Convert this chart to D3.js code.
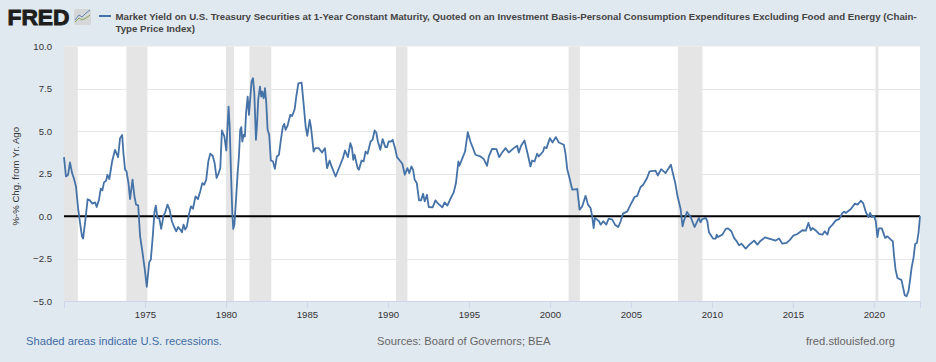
<!DOCTYPE html>
<html>
<head>
<meta charset="utf-8">
<script src="https://cdn.jsdelivr.net/npm/d3@7"></script>
<style>
html, body { margin: 0; padding: 0; background: #e1e9f0; }
svg { display: block; font-family: "Liberation Sans", Arial, sans-serif; }
</style>
</head>
<body>
<svg width="936" height="362"></svg>
<script>
const years = [
1970.0,1970.12,1970.25,1970.37,1970.5,1970.62,1970.74,1970.87,1970.99,1971.11,1971.18,1971.3,1971.46,1971.6,1971.75,1971.92,1972.02,1972.16,1972.27,1972.37,1972.47,1972.6,1972.68,1972.8,1972.97,1973.15,1973.34,1973.46,1973.59,1973.67,1973.77,1973.86,1973.98,1974.08,1974.23,1974.35,1974.45,1974.58,1974.7,1974.85,1974.99,1975.11,1975.26,1975.36,1975.48,1975.59,1975.67,1975.77,1975.88,1976.0,1976.14,1976.25,1976.39,1976.52,1976.66,1976.8,1976.93,1977.05,1977.18,1977.28,1977.38,1977.48,1977.59,1977.71,1977.84,1977.96,1978.12,1978.27,1978.41,1978.54,1978.66,1978.78,1978.91,1979.03,1979.18,1979.3,1979.42,1979.55,1979.65,1979.75,1979.9,
1980.02,1980.16,1980.23,1980.31,1980.39,1980.45,1980.52,1980.62,1980.72,1980.8,1980.88,1980.95,1981.01,1981.09,1981.17,1981.24,1981.34,1981.42,1981.5,1981.58,1981.67,1981.75,1981.85,1981.91,1981.99,1982.1,1982.18,1982.24,1982.33,1982.41,1982.49,1982.57,1982.67,1982.77,1982.9,1983.02,1983.14,1983.27,1983.39,1983.51,1983.6,1983.68,1983.8,1983.97,1984.09,1984.24,1984.34,1984.47,1984.67,1984.79,1984.92,1985.02,1985.17,1985.25,1985.41,1985.51,1985.72,1985.93,1986.11,1986.24,1986.4,1986.52,1986.77,1987.06,1987.22,1987.35,1987.53,1987.68,1987.78,1987.86,1987.94,1988.13,1988.21,1988.37,1988.5,1988.62,1988.74,1988.93,1989.05,1989.18,1989.28,1989.38,1989.53,1989.67,1989.84,1989.94,
1990.05,1990.19,1990.29,1990.44,1990.56,1990.73,1990.89,1991.04,1991.2,1991.32,1991.45,1991.55,1991.65,1991.78,1991.92,1992.04,1992.17,1992.27,1992.41,1992.52,1992.76,1992.93,1993.07,1993.36,1993.5,1993.67,1993.85,1994.06,1994.2,1994.35,1994.41,1994.6,1994.76,1994.93,1995.09,1995.25,1995.4,1995.71,1995.92,1996.12,1996.23,1996.43,1996.7,1996.87,1997.05,1997.26,1997.46,1997.77,1997.98,1998.08,1998.22,1998.43,1998.64,1998.8,1998.9,1999.05,1999.21,1999.31,1999.58,1999.66,1999.79,
2000.0,2000.16,2000.37,2000.55,2000.86,2000.96,2001.07,2001.21,2001.38,2001.69,2001.83,2002.0,2002.2,2002.35,2002.51,2002.61,2002.7,2002.78,2003.03,2003.13,2003.3,2003.48,2003.63,2003.85,2004.02,2004.22,2004.37,2004.51,2004.78,2004.98,2005.23,2005.39,2005.6,2005.76,2006.0,2006.15,2006.52,2006.66,2006.87,2007.14,2007.47,2007.59,2007.74,2007.88,2008.07,2008.19,2008.27,2008.46,2008.69,2008.93,2009.2,2009.3,2009.41,2009.62,2009.72,2009.82,
2010.07,2010.24,2010.3,2010.38,2010.65,2010.86,2011.0,2011.2,2011.37,2011.53,2011.68,2011.82,2012.09,2012.36,2012.61,2012.81,2012.98,2013.28,2013.53,2013.94,2014.15,2014.35,2014.62,2014.83,2015.03,2015.28,2015.59,2015.8,2015.96,2016.11,2016.21,2016.42,2016.62,2016.83,2016.97,2017.14,2017.24,2017.45,2017.65,2017.86,2018.06,2018.17,2018.27,2018.58,2018.83,2018.99,2019.2,2019.34,2019.51,2019.67,2019.77,2019.88,
2020.02,2020.12,2020.22,2020.31,2020.49,2020.7,2020.84,2021.05,2021.17,2021.25,2021.34,2021.46,2021.71,2021.81,2021.91,2022.02,2022.14,2022.24,2022.33,2022.45,2022.55,2022.66,2022.76,2022.85
];
const values = [
3.48,2.34,2.44,3.17,2.54,2.19,1.75,0.48,-0.4,-1.19,-1.32,-0.4,1.0,0.93,0.74,0.81,0.54,0.97,1.62,1.52,1.99,2.09,2.44,2.19,3.22,3.91,3.48,4.6,4.79,3.72,2.74,2.64,1.95,1.0,2.15,1.17,0.68,0.64,-1.19,-2.17,-3.15,-4.17,-2.72,-2.56,-1.19,0.28,0.62,-0.11,-0.11,-0.75,0,0.23,0.68,0.38,-0.3,-0.64,-0.89,-0.64,-0.79,-0.95,-0.5,-0.79,-0.6,0.09,0.58,0.44,1.17,1.01,1.46,1.95,1.85,2.15,3.23,3.68,3.56,3.13,2.25,2.54,2.83,5.05,4.7,
3.87,6.46,5.28,2.54,0.19,-0.75,-0.5,0.97,2.54,3.52,5.09,5.25,4.4,4.79,4.7,6.07,7.05,5.97,6.95,7.93,8.13,7.25,4.5,5.28,6.85,7.64,7.05,7.34,6.95,7.54,6.66,5.09,4.79,3.28,3.23,2.79,3.52,3.62,4.5,5.28,5.44,5.09,5.32,5.97,5.91,6.3,7.05,7.83,7.87,6.66,5.28,4.74,5.68,5.25,3.81,4.01,4.01,3.75,4.01,2.83,3.28,2.93,2.34,3.03,3.42,3.87,3.48,4.3,4.01,3.32,3.62,2.83,2.74,3.28,3.23,3.81,3.68,4.4,4.5,5.05,4.93,4.4,3.91,4.54,4.07,4.07,
4.4,4.4,4.5,4.01,3.48,3.28,3.09,2.44,2.83,2.54,2.93,2.74,2.15,1.95,0.93,0.93,1.32,0.87,1.26,0.54,0.52,0.93,0.77,0.52,0.81,0.62,1.01,1.4,1.95,3.23,2.97,3.42,3.81,4.95,4.4,4.01,3.62,3.52,3.36,2.97,3.52,3.97,3.95,3.48,3.75,4.01,3.75,4.01,4.15,3.75,4.15,4.46,3.62,2.93,3.28,3.22,3.68,3.52,3.81,4.07,4.01,
4.6,4.34,4.66,4.34,4.21,3.72,2.77,2.25,1.56,1.6,0.38,0.58,1.2,0.68,0.48,0,-0.7,-0.1,-0.3,-0.5,-0.3,-0.5,-0.15,-0.2,-0.5,-0.64,-0.3,0.15,0.28,0.68,1.13,1.2,1.72,1.85,2.25,2.64,2.68,2.4,2.77,2.54,3.03,2.54,1.95,1.17,0.42,-0.6,-0.3,0.25,-0.05,-0.64,-0.1,-0.36,-0.17,-0.1,-0.3,-0.95,
-1.32,-1.32,-1.09,-1.23,-1.09,-0.75,-0.72,-0.89,-1.28,-1.48,-1.72,-1.62,-1.91,-1.64,-1.44,-1.68,-1.48,-1.25,-1.32,-1.44,-1.32,-1.62,-1.58,-1.38,-1.15,-1.05,-0.83,-0.85,-0.4,-0.83,-0.7,-0.85,-1.05,-1.09,-0.89,-1.09,-0.7,-0.5,-0.25,-0.17,0.19,0.26,0.19,0.42,0.74,0.68,0.91,0.77,0.23,-0.05,0.19,-0.05,
0,-0.3,-1.23,-0.72,-0.72,-1.28,-1.19,-1.38,-1.48,-2.36,-3.15,-3.64,-3.77,-4.23,-4.66,-4.72,-4.42,-3.74,-3.05,-2.46,-1.64,-1.58,-0.99,0.0
];
const recessionStarts = [1969.9, 1973.85, 1980.0, 1981.45, 1990.5, 2001.15, 2007.9, 2020.1];
const recessionEnds = [1970.85, 1975.15, 1980.5, 1982.8, 1991.2, 2001.85, 2009.42, 2020.28];
const xTicks = [1975, 1980, 1985, 1990, 1995, 2000, 2005, 2010, 2015, 2020];
const yTicks = [-5, -2.5, 0, 2.5, 5, 7.5, 10];
const titleLines = [
    "Market Yield on U.S. Treasury Securities at 1-Year Constant Maturity, Quoted on an Investment Basis-Personal Consumption Expenditures Excluding Food and Energy (Chain-",
    "Type Price Index)"
];

const svg = d3.select("svg");
const margin = { left: 64, right: 16, top: 46.5, bottom: 61 };
const width = +svg.attr("width");
const height = +svg.attr("height");
const blue = "#4572a7";

const x = d3.scaleLinear().domain([1970, 2022.85]).range([margin.left, width - margin.right]);
const y = d3.scaleLinear().domain([-5, 10]).range([height - margin.bottom, margin.top]);

svg.append("rect").attr("width", width).attr("height", height).attr("fill", "#e1e9f0");
svg.append("rect")
    .attr("x", x.range()[0]).attr("y", y(10))
    .attr("width", x.range()[1] - x.range()[0]).attr("height", y(-5) - y(10))
    .attr("fill", "#fff");

// gridlines
svg.append("g").selectAll("line")
    .data(yTicks.filter(d => d !== 10 && d !== -5))
    .enter().append("line")
    .attr("x1", x.range()[0]).attr("x2", x.range()[1])
    .attr("y1", d => Math.round(y(d)) + 0.5).attr("y2", d => Math.round(y(d)) + 0.5)
    .attr("stroke", "#e6e6e6");

// recessions
svg.append("g").selectAll("rect")
    .data(recessionStarts)
    .enter().append("rect")
    .attr("x", d => x(Math.max(d, 1970)))
    .attr("y", y(10))
    .attr("width", (d, i) => x(recessionEnds[i]) - x(Math.max(d, 1970)))
    .attr("height", y(-5) - y(10))
    .attr("fill", "#e5e5e5");

// axes
const xAxis = d3.axisBottom(x).tickValues(xTicks).tickFormat(d3.format("d")).tickSize(7).tickPadding(3);
const xAxisG = svg.append("g")
    .attr("transform", `translate(0, ${y(-5)})`)
    .call(xAxis);
xAxisG.select(".domain").attr("stroke", "#ccd6eb");
xAxisG.selectAll(".tick line").attr("stroke", "#ccd6eb");
xAxisG.selectAll("text").attr("fill", "#333").style("font-size", "9.6px").style("font-family", "inherit");

const yAxis = d3.axisLeft(y).tickValues(yTicks).tickFormat(d3.format(".1f")).tickSize(0).tickPadding(12);
const yAxisG = svg.append("g")
    .attr("transform", `translate(${margin.left}, 0)`)
    .call(yAxis);
yAxisG.select(".domain").remove();
yAxisG.selectAll("text").attr("fill", "#333").style("font-size", "9.6px").style("font-family", "inherit");

svg.append("text")
    .attr("transform", `translate(19, ${(y(10) + y(-5)) / 2 + 2.5}) rotate(-90)`)
    .attr("text-anchor", "middle")
    .attr("fill", "#333")
    .style("font-size", "9.6px")
    .text("%-% Chg. from Yr. Ago");

// zero line
svg.append("line")
    .attr("x1", x.range()[0]).attr("x2", x.range()[1])
    .attr("y1", y(0)).attr("y2", y(0))
    .attr("stroke", "#000").attr("stroke-width", 2);

// series
const line = d3.line().x((d, i) => x(years[i])).y(d => y(d));
svg.append("path")
    .attr("d", line(values))
    .attr("fill", "none")
    .attr("stroke", blue)
    .attr("stroke-width", 1.8)
    .attr("stroke-linejoin", "round");

// header
svg.append("text")
    .attr("x", 7.5).attr("y", 25)
    .attr("textLength", 62).attr("lengthAdjust", "spacingAndGlyphs")
    .attr("fill", "#1e1e1e").attr("stroke", "#1e1e1e").attr("stroke-width", 0.9)
    .style("font-size", "22px").style("font-weight", "bold")
    .text("FRED");

const iconData = [[75, 20], [79, 15], [82, 17], [86, 13], [90, 10]];
const iconData2 = [[75, 22], [79, 18], [82, 20], [86, 18], [90, 15]];
svg.append("rect").attr("x", 74).attr("y", 9).attr("width", 17).attr("height", 16).attr("rx", 2).attr("fill", "#d4d6d8");
svg.append("path").attr("d", d3.line()(iconData)).attr("fill", "none").attr("stroke", "#5f86b3");
svg.append("path").attr("d", d3.line()(iconData2)).attr("fill", "none").attr("stroke", "#85a55a");

svg.append("line")
    .attr("x1", 99).attr("x2", 111).attr("y1", 16).attr("y2", 16)
    .attr("stroke", blue).attr("stroke-width", 2);

svg.append("g").selectAll("text")
    .data(titleLines)
    .enter().append("text")
    .attr("x", 115.5)
    .attr("y", (d, i) => 19.5 + i * 12)
    .attr("fill", "#444")
    .style("font-size", "9.68px")
    .style("font-weight", "bold")
    .text(d => d);

// footer
svg.append("text").attr("x", 26).attr("y", 345).attr("fill", "#3e6ca5")
    .style("font-size", "11.2px").text("Shaded areas indicate U.S. recessions.");
svg.append("text").attr("x", 377).attr("y", 345).attr("fill", "#666")
    .style("font-size", "11.2px").text("Sources: Board of Governors; BEA");
svg.append("text").attr("x", 806).attr("y", 345).attr("fill", "#666")
    .style("font-size", "11.2px").text("fred.stlouisfed.org");
</script>
</body>
</html>
